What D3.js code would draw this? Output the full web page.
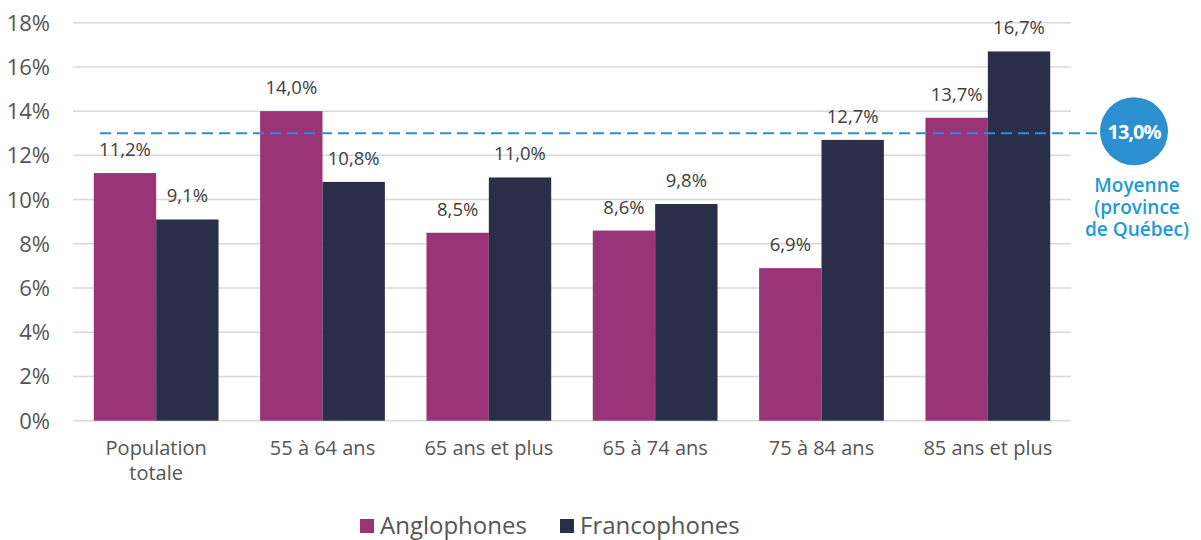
<!DOCTYPE html>
<html lang="fr">
<head>
<meta charset="utf-8">
<title>Anglophones et francophones</title>
<script src="https://d3js.org/d3.v7.min.js"></script>
<style>
  body { margin: 0; background: #fff; }
  svg { font-family: "Open Sans", sans-serif; }
</style>
</head>
<body>
<script>
var categories = [["Population", "totale"], ["55 à 64 ans"], ["65 ans et plus"], ["65 à 74 ans"], ["75 à 84 ans"], ["85 ans et plus"]];
var seriesNames = ["Anglophones", "Francophones"];
var anglophones = [11.2, 14.0, 8.5, 8.6, 6.9, 13.7];
var francophones = [9.1, 10.8, 11.0, 9.8, 12.7, 16.7];
var yTicks = [0, 2, 4, 6, 8, 10, 12, 14, 16, 18];
var average = 13.0;
var averageLabel = ["Moyenne", "(province", "de Québec)"];

var width = 1201, height = 540;
var colors = ["#993479", "#2a2e48"];
var fmt = function(v) { return v.toFixed(1).replace(".", ",") + "%"; };

var svg = d3.select("body").append("svg")
    .attr("width", width)
    .attr("height", height);

var x = d3.scaleBand()
    .domain(d3.range(categories.length))
    .range([73, 1071])
    .paddingInner(0.25)
    .paddingOuter(0.125);

var xs = d3.scaleBand()
    .domain([0, 1])
    .range([0, x.bandwidth()]);

var y = d3.scaleLinear()
    .domain([0, 18])
    .range([420.7, 22.7]);

// grid
svg.append("g")
  .selectAll("line")
  .data(yTicks)
  .enter().append("line")
    .attr("x1", 73).attr("x2", 1071)
    .attr("y1", function(d) { return y(d); })
    .attr("y2", function(d) { return y(d); })
    .attr("stroke", "#d9d9d9")
    .attr("stroke-width", 1.5);

// y axis labels
svg.append("g")
  .selectAll("text")
  .data(yTicks)
  .enter().append("text")
    .attr("x", 50)
    .attr("y", function(d) { return y(d) + 8; })
    .attr("text-anchor", "end")
    .attr("font-size", 22)
    .attr("fill", "#555")
    .text(function(d) { return d + "%"; });

var rows = categories.map(function(c, i) {
  return { i: i, values: [anglophones[i], francophones[i]] };
});

var groups = svg.append("g")
  .selectAll("g")
  .data(rows)
  .enter().append("g")
    .attr("transform", function(d) { return "translate(" + x(d.i) + ",0)"; });

groups.selectAll("rect")
  .data(function(d) { return d.values; })
  .enter().append("rect")
    .attr("x", function(d, j) { return xs(j); })
    .attr("width", xs.bandwidth())
    .attr("y", function(d) { return y(d); })
    .attr("height", function(d) { return y(0) - y(d); })
    .attr("fill", function(d, j) { return colors[j]; });

groups.selectAll("text")
  .data(function(d) { return d.values; })
  .enter().append("text")
    .attr("x", function(d, j) { return xs(j) + xs.bandwidth() / 2; })
    .attr("y", function(d) { return y(d) - 17; })
    .attr("text-anchor", "middle")
    .attr("font-size", 18.5)
    .attr("fill", "#404040")
    .text(fmt);

// category labels
var cat = svg.append("g")
  .selectAll("text")
  .data(categories)
  .enter().append("text")
    .attr("x", function(d, i) { return x(i) + x.bandwidth() / 2; })
    .attr("y", 455)
    .attr("text-anchor", "middle")
    .attr("font-size", 20)
    .attr("fill", "#555");
cat.selectAll("tspan")
  .data(function(d) { return d; })
  .enter().append("tspan")
    .attr("x", function() { return d3.select(this.parentNode).attr("x"); })
    .attr("dy", function(d, k) { return k ? 25 : 0; })
    .text(function(d) { return d; });

// average line
svg.append("line")
    .attr("x1", 100).attr("x2", 1102)
    .attr("y1", y(average)).attr("y2", y(average))
    .attr("stroke", "#2b8fd0")
    .attr("stroke-width", 2.2)
    .attr("stroke-dasharray", "11,6");

svg.append("circle")
    .attr("cx", 1134)
    .attr("cy", y(average) - 2)
    .attr("r", 34)
    .attr("fill", "#2b8fd0");

svg.append("text")
    .attr("x", 1134)
    .attr("y", y(average) + 6)
    .attr("text-anchor", "middle")
    .attr("font-size", 20)
    .attr("font-weight", "bold")
    .attr("letter-spacing", -1)
    .attr("fill", "#fff")
    .text(fmt(average));

svg.append("g")
  .selectAll("text")
  .data(averageLabel)
  .enter().append("text")
    .attr("x", 1137)
    .attr("y", function(d, k) { return 192 + k * 22; })
    .attr("text-anchor", "middle")
    .attr("font-size", 19)
    .attr("font-weight", 600)
    .attr("fill", "#1d9ad6")
    .text(function(d) { return d; });

// legend
var legend = svg.append("g")
  .selectAll("g")
  .data(seriesNames)
  .enter().append("g")
    .attr("transform", function(d, i) { return "translate(" + (360 + i * 200) + ",519)"; });

legend.append("rect")
    .attr("width", 14).attr("height", 14)
    .attr("fill", function(d, i) { return colors[i]; });

legend.append("text")
    .attr("x", 20)
    .attr("y", 15)
    .attr("font-size", 24)
    .attr("fill", "#555")
    .text(function(d) { return d; });
</script>
</body>
</html>
